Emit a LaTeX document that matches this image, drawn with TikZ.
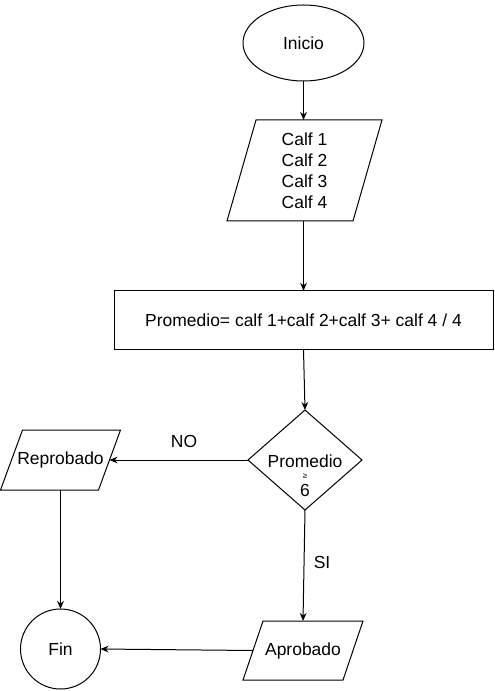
\documentclass[tikz,border=0pt]{standalone}
\usepackage{fontspec}
\setmainfont{Liberation Sans}
\usetikzlibrary{shapes.geometric,arrows.meta,calc}
\begin{document}
\begin{tikzpicture}[x=0.75pt,y=-0.75pt,
  font=\fontsize{13.1}{15.75}\selectfont,
  every node/.style={inner sep=0pt, outer sep=0pt},
  line/.style={draw=black, line width=0.75pt},
  arr/.style={draw=black, line width=0.75pt, -{Stealth[length=6pt,width=5pt]}},
  bare/.style={rectangle, align=center},
  term/.style={ellipse, line, minimum width=90.75pt, minimum height=57pt},
  procbox/.style={rectangle, line, minimum width=284.25pt, minimum height=44.25pt},
  decbox/.style={diamond, line, minimum width=85.5pt, minimum height=75pt},
  endcircle/.style={circle, line, minimum size=60pt}
]
\useasboundingbox (0,0) rectangle (494,691);

% nodes
\node[term] (ini) at (303.5,43) {Inicio};
\node[bare, minimum width=116.25pt, minimum height=75.75pt] (calf) at (304.5,170.5)
  {Calf 1\\Calf 2\\Calf 3\\Calf 4};
\draw[line] ([xshift=21.75pt]calf.north west) -- (calf.north east)
  -- ([xshift=-21.75pt]calf.south east) -- (calf.south west) -- cycle;
\node[procbox] (prom) at (303.5,320.3) {Promedio= calf 1+calf 2+calf 3+ calf 4 / 4};
\node[decbox] (dec) at (305,460) {};
\node[anchor=base] (dect1) at (305,467) {Promedio};
\node[anchor=base, font=\fontsize{6}{6}\selectfont] (dect2) at (305,478) {≥};
\node[anchor=base] (dect3) at (305,496) {6};
\node[bare, minimum width=90pt, minimum height=45pt] (rep) at (60.5,460) {Reprobado};
\draw[line] ([xshift=16.5pt]rep.north west) -- (rep.north east)
  -- ([xshift=-16.5pt]rep.south east) -- (rep.south west) -- cycle;
\node[endcircle] (fin) at (60.5,649) {Fin};
\node[bare, minimum width=90pt, minimum height=44.25pt] (apro) at (303,650.5) {Aprobado};
\draw[line] ([xshift=15pt]apro.north west) -- (apro.north east)
  -- ([xshift=-15pt]apro.south east) -- (apro.south west) -- cycle;

\coordinate (repR) at ([xshift=-8.25pt]rep.east);
\coordinate (aproL) at ([xshift=7.5pt]apro.west);

% connectors
\draw[arr] (ini.south) -- (ini.south |- calf.north);
\draw[arr] (prom.north |- calf.south) -- (prom.north);
\draw[arr] (prom.south) -- (dec.north);
\draw[arr] (dec.west) -- (repR);
\draw[arr] (dec.south) -- (apro.north);
\draw[arr] (rep.south) -- (fin.north);
\draw[arr] (aproL) -- (fin.east);

% labels
\node (no) at (184,441) {NO};
\node (si) at (322,562) {SI};
\end{tikzpicture}
\end{document}
